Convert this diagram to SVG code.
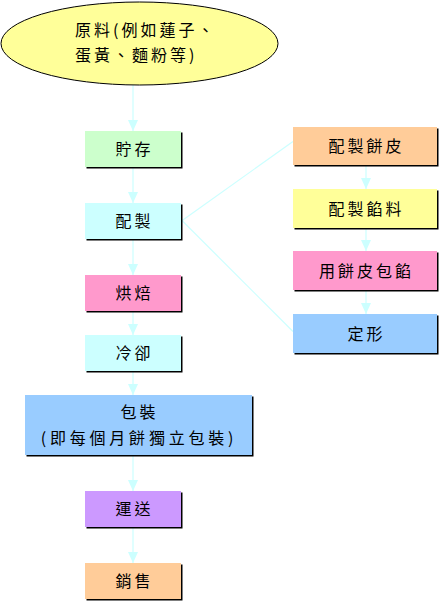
<svg xmlns="http://www.w3.org/2000/svg" width="439" height="601" viewBox="0 0 439 601">
<style>
text{font-family:"Noto Sans CJK TC","Noto Sans CJK SC",sans-serif;font-size:16px;letter-spacing:3px;fill:#000;text-anchor:middle}
.sh{fill:#000}
.cn line{stroke:#ccffff;stroke-width:1.2;fill:none}
.ar{fill:#ccffff}
</style>
<defs>
<marker id="ah" markerUnits="userSpaceOnUse" markerWidth="12" markerHeight="12" viewBox="0 0 12 12" refX="11" refY="6" orient="auto">
<path d="M0,1 L11,6 L0,11 Z" class="ar"/>
</marker>
</defs>
<rect width="439" height="601" fill="#fff"/>
<g class="cn" id="connectors">
<line x1="133" y1="85" x2="133" y2="131" marker-end="url(#ah)"/>
<line x1="133" y1="167" x2="133" y2="203" marker-end="url(#ah)"/>
<line x1="133" y1="239" x2="133" y2="275" marker-end="url(#ah)"/>
<line x1="133" y1="311" x2="133" y2="335" marker-end="url(#ah)"/>
<line x1="133" y1="371" x2="133" y2="395" marker-end="url(#ah)"/>
<line x1="133" y1="455" x2="133" y2="491" marker-end="url(#ah)"/>
<line x1="133" y1="527" x2="133" y2="563" marker-end="url(#ah)"/>
<line x1="366" y1="165" x2="366" y2="189" marker-end="url(#ah)"/>
<line x1="366" y1="228" x2="366" y2="251" marker-end="url(#ah)"/>
<line x1="366" y1="290" x2="366" y2="314" marker-end="url(#ah)"/>
<line x1="181.5" y1="221" x2="293" y2="141.5"/>
<line x1="181.5" y1="220" x2="293" y2="331.5"/>
</g>
<g id="n-raw">
<ellipse cx="139.5" cy="43.5" rx="138.5" ry="41.5" fill="#ffff99" stroke="#000" stroke-width="1"/>
<text x="75" y="35.5" style="text-anchor:start">原料(例如蓮子、</text>
<text x="75" y="60.5" style="text-anchor:start">蛋黃、麵粉等)</text>
</g>
<g id="n-store">
<rect class="sh" x="86.5" y="132.5" width="96" height="36"/>
<rect x="85" y="131" width="96" height="36" fill="#ccffcc"/>
<text x="134.5" y="155">貯存</text>
</g>
<g id="n-mix">
<rect class="sh" x="86.5" y="204.5" width="96" height="36"/>
<rect x="85" y="203" width="96" height="36" fill="#ccffff"/>
<text x="134.5" y="227">配製</text>
</g>
<g id="n-bake">
<rect class="sh" x="86.5" y="276.5" width="96" height="36"/>
<rect x="85" y="275" width="96" height="36" fill="#ff99cc"/>
<text x="134.5" y="299">烘焙</text>
</g>
<g id="n-cool">
<rect class="sh" x="86.5" y="336.5" width="96" height="36"/>
<rect x="85" y="335" width="96" height="36" fill="#ccffff"/>
<text x="134.5" y="359">冷卻</text>
</g>
<g id="n-pack">
<rect class="sh" x="26.5" y="396.5" width="227" height="60"/>
<rect x="25" y="395" width="227" height="60" fill="#99ccff"/>
<text x="139.5" y="417.5">包裝</text>
<text x="139" y="443.5" style="letter-spacing:3.8px">(即每個月餅獨立包裝)</text>
</g>
<g id="n-ship">
<rect class="sh" x="86.5" y="492.5" width="96" height="36"/>
<rect x="85" y="491" width="96" height="36" fill="#cc99ff"/>
<text x="134.5" y="515">運送</text>
</g>
<g id="n-sell">
<rect class="sh" x="86.5" y="564.5" width="96" height="36"/>
<rect x="85" y="563" width="96" height="36" fill="#ffcc99"/>
<text x="134.5" y="587">銷售</text>
</g>
<g id="n-skin">
<rect class="sh" x="294.5" y="128.5" width="144" height="38"/>
<rect x="293" y="127" width="144" height="38" fill="#ffcc99"/>
<text x="366.5" y="152">配製餅皮</text>
</g>
<g id="n-fill">
<rect class="sh" x="294.5" y="190.5" width="144" height="39"/>
<rect x="293" y="189" width="144" height="39" fill="#ffff99"/>
<text x="366.5" y="214.5">配製餡料</text>
</g>
<g id="n-wrap">
<rect class="sh" x="294.5" y="252.5" width="144" height="39"/>
<rect x="293" y="251" width="144" height="39" fill="#ff99cc"/>
<text x="366.5" y="276.5">用餅皮包餡</text>
</g>
<g id="n-shape">
<rect class="sh" x="294.5" y="315.5" width="144" height="39"/>
<rect x="293" y="314" width="144" height="39" fill="#99ccff"/>
<text x="366.5" y="339.5">定形</text>
</g>
</svg>
